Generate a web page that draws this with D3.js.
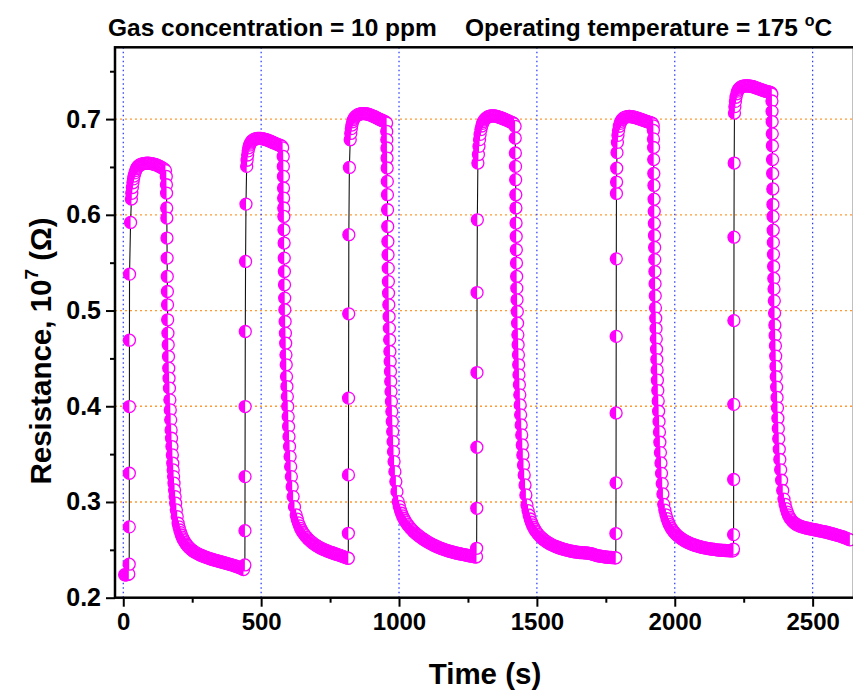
<!DOCTYPE html>
<html>
<head>
<meta charset="utf-8">
<script src="https://cdn.jsdelivr.net/npm/d3@7"></script>
<style>
  body { margin: 0; background: #fff; }
  text { font-family: "Liberation Sans", Arial, sans-serif; font-weight: bold; fill: #000; }
</style>
</head>
<body>
<svg id="chart" width="853" height="695"></svg>
<script>
// Sensor resistance over six exposure / recovery cycles: [time (s), resistance (x10^7 Ω)]
const cycle1 = [
  [5,0.2240],[8,0.2239],[11,0.2240],[14,0.2242],[17,0.2245],[20,0.2248],
  [21.5,0.2350],[21.8,0.2740],[22.0,0.3300],[22.2,0.3997],[22.4,0.4690],[22.7,0.5380],[26.5,0.5920],[29.5,0.6165],
  [31,0.6225],[33,0.6285],[35,0.6335],[37,0.6375],[39,0.6405],[42,0.6438],[45,0.6462],[48,0.6482],[51,0.6497],[54,0.6508],[58,0.6518],[62,0.6524],[66,0.6529],[70,0.6532],[74,0.6535],[78,0.6537],[82,0.6538],[86,0.6539],[90,0.6539],[94,0.6538],[98,0.6537],[102,0.6535],[106,0.6533],[110,0.6530],[114,0.6527],[118,0.6523],[122,0.6519],[126,0.6514],[130,0.6508],[134,0.6502],[138,0.6496],[142,0.6489],[146,0.6482],[150,0.6473],[153,0.6462],
  [156,0.6401],[156.5,0.6314],[157,0.6227],[157.5,0.6071],[158,0.5966],[158.5,0.5757],[159,0.5548],[159.5,0.5356],[160,0.5199],[160.5,0.5060],[161,0.4903],[162,0.4764],[163,0.4642],[164,0.4519],[165,0.4398],[166,0.4293],[167.5,0.4189],[169,0.4067],[170.5,0.3962],[172,0.3858],[173.5,0.3753],[175,0.3666],[176.5,0.3579],[178,0.3492],[179.5,0.3405],[181,0.3335],[182.5,0.3265],[184,0.3196],[186,0.3126],[188,0.3056],[190,0.2987],[192.5,0.2917],[195.5,0.2847],
  [199,0.2778],[202,0.2740],[205,0.2707],[208,0.2680],[211,0.2655],[214,0.2633],[217,0.2614],[220,0.2597],[224,0.2578],[228,0.2561],[232,0.2546],[236,0.2533],[240,0.2521],[244,0.2510],[248,0.2500],[252,0.2491],[256,0.2483],[261,0.2474],[266,0.2466],[271,0.2458],[276,0.2451],[281,0.2444],[286,0.2438],[291,0.2432],[296,0.2426],[301,0.2421],[306,0.2416],[311,0.2411],[316,0.2406],[321,0.2402],[326,0.2397],[331,0.2393],[336,0.2389],[341,0.2385],[346,0.2381],[351,0.2377],[356,0.2373],[361,0.2369],[366,0.2365],[371,0.2361],[376,0.2357],[381,0.2353],[386,0.2349],[391,0.2345],[396,0.2341],[401,0.2336],[406,0.2331],[411,0.2326],[416,0.2321],[421,0.2315],[426,0.2309],[431,0.2302],[436,0.2294]
];
const cycle2 = [
  [441,0.2342],[441.3,0.2700],[441.6,0.3265],[442,0.3997],[442.5,0.4781],[443.5,0.5513],[445,0.6112],[447.5,0.6506],
  [449,0.6570],[451,0.6625],[453,0.6668],[455,0.6700],[458,0.6728],[461,0.6748],[464,0.6762],[467,0.6773],[471,0.6782],[475,0.6788],[479,0.6792],[483,0.6795],[487,0.6797],[491,0.6798],[495,0.6798],[499,0.6797],[503,0.6796],[507,0.6794],[511,0.6791],[515,0.6788],[519,0.6784],[523,0.6780],[527,0.6775],[531,0.6771],[535,0.6766],[539,0.6761],[543,0.6756],[547,0.6751],[551,0.6746],[555,0.6741],[559,0.6736],[563,0.6731],[567,0.6727],[571,0.6722],[575,0.6718],[578,0.6700],
  [580,0.6610],[580.4,0.6506],[580.8,0.6401],[581.2,0.6280],[581.6,0.6175],[582,0.6071],[582.4,0.5983],[582.8,0.5844],[583.3,0.5705],[583.8,0.5548],[584.3,0.5408],[584.8,0.5269],[585.4,0.5130],[586,0.5008],[587,0.4885],[588,0.4764],[589,0.4659],[590,0.4537],[591,0.4433],[592,0.4310],[593.5,0.4206],[595,0.4101],[596.5,0.3997],[598,0.3892],[599.5,0.3788],[601,0.3683],[603,0.3579],[605,0.3474],[607,0.3369],[609.5,0.3265],[612.5,0.3160],[616,0.3056],[621,0.2951],[627,0.2865],
  [631,0.2820],[635,0.2782],[639,0.2751],[643,0.2725],[647,0.2703],[651,0.2684],[655,0.2667],[660,0.2648],[665,0.2631],[670,0.2615],[675,0.2601],[680,0.2588],[685,0.2576],[690,0.2565],[695,0.2555],[700,0.2545],[705,0.2536],[710,0.2528],[715,0.2520],[720,0.2513],[725,0.2506],[730,0.2500],[735,0.2494],[740,0.2488],[745,0.2482],[750,0.2477],[755,0.2472],[760,0.2467],[765,0.2462],[770,0.2457],[775,0.2452],[780,0.2447],[785,0.2442],[790,0.2437],[795,0.2432],[800,0.2427],[805,0.2422],[810,0.2417],[814,0.2413]
];
const cycle3 = [
  [816,0.2412],[816.3,0.2673],[816.6,0.3283],[817,0.4085],[817.5,0.4966],[818,0.5792],[820,0.6495],[823,0.6784],
  [825,0.6850],[827,0.6900],[829,0.6938],[832,0.6972],[835,0.6995],[838,0.7011],[841,0.7023],[845,0.7034],[849,0.7042],[853,0.7048],[857,0.7052],[861,0.7055],[865,0.7057],[869,0.7058],[873,0.7058],[877,0.7057],[881,0.7055],[885,0.7053],[889,0.7050],[893,0.7046],[897,0.7042],[901,0.7037],[905,0.7032],[909,0.7027],[913,0.7022],[917,0.7016],[921,0.7010],[925,0.7004],[929,0.6998],[933,0.6993],[937,0.6988],[941,0.6983],[945,0.6978],[949,0.6972],[952,0.6966],
  [955,0.6959],[955.4,0.6871],[955.8,0.6785],[956.2,0.6698],[956.6,0.6593],[957,0.6489],[957.5,0.6349],[958,0.6210],[958.5,0.6053],[959,0.5878],[959.6,0.5722],[960.2,0.5583],[960.8,0.5443],[961.4,0.5303],[962,0.5182],[963,0.5060],[964,0.4937],[965,0.4816],[966,0.4694],[967,0.4572],[968,0.4467],[969,0.4363],[970,0.4258],[971,0.4153],[972.5,0.4049],[974,0.3944],[975.5,0.3840],[977,0.3735],[978.5,0.3631],[980,0.3526],[982,0.3422],[985,0.3317],[988.5,0.3213],[992.5,0.3108],[997,0.3004],
  [1001,0.2955],[1005,0.2915],[1009,0.2882],[1013,0.2854],[1017,0.2830],[1021,0.2809],[1025,0.2790],[1030,0.2769],[1035,0.2750],[1040,0.2732],[1045,0.2716],[1050,0.2701],[1055,0.2687],[1060,0.2674],[1065,0.2662],[1070,0.2650],[1075,0.2639],[1080,0.2628],[1085,0.2618],[1090,0.2608],[1095,0.2599],[1100,0.2590],[1105,0.2581],[1110,0.2573],[1115,0.2565],[1120,0.2557],[1125,0.2550],[1130,0.2543],[1135,0.2536],[1140,0.2530],[1145,0.2524],[1150,0.2518],[1155,0.2512],[1160,0.2507],[1165,0.2502],[1170,0.2497],[1175,0.2492],[1180,0.2488],[1185,0.2484],[1190,0.2480],[1195,0.2476],[1200,0.2472],[1205,0.2468],[1210,0.2465],[1215,0.2462],[1220,0.2459],[1225,0.2456],[1230,0.2453],[1235,0.2450],[1240,0.2447],[1245,0.2444],[1250,0.2441],[1255,0.2438],[1260,0.2435],[1265,0.2432],[1270,0.2429],[1275,0.2426],[1279,0.2424]
];
const cycle4 = [
  [1281,0.2429],[1281.5,0.2516],[1282,0.2934],[1282.3,0.3572],[1282.7,0.4352],[1283,0.5188],[1284,0.5948],[1286,0.6541],
  [1288,0.6630],[1290,0.6715],[1292,0.6785],[1294,0.6840],[1297,0.6890],[1300,0.6928],[1303,0.6955],[1306,0.6975],[1310,0.6992],[1314,0.7005],[1318,0.7015],[1322,0.7022],[1326,0.7027],[1330,0.7031],[1334,0.7033],[1338,0.7034],[1342,0.7034],[1346,0.7033],[1350,0.7031],[1354,0.7028],[1358,0.7025],[1362,0.7021],[1366,0.7017],[1370,0.7013],[1374,0.7009],[1378,0.7004],[1382,0.6999],[1386,0.6994],[1390,0.6989],[1394,0.6984],[1398,0.6979],[1402,0.6974],[1406,0.6969],[1410,0.6964],[1414,0.6958],[1417,0.6950],
  [1421,0.6924],[1421.5,0.6802],[1422,0.6646],[1422.5,0.6506],[1423,0.6367],[1423.5,0.6210],[1424,0.6071],[1424.5,0.5914],[1425,0.5774],[1425.5,0.5635],[1426,0.5496],[1426.6,0.5356],[1427.2,0.5234],[1428,0.5112],[1429,0.4990],[1430,0.4868],[1431,0.4746],[1432,0.4642],[1433,0.4537],[1434,0.4433],[1435,0.4328],[1436.5,0.4224],[1438,0.4119],[1439.5,0.4014],[1441,0.3910],[1443,0.3805],[1445,0.3701],[1447,0.3596],[1449,0.3492],[1451.5,0.3387],[1454,0.3283],[1457,0.3178],[1460,0.3074],[1464,0.2969],
  [1468,0.2910],[1472,0.2862],[1476,0.2822],[1480,0.2788],[1484,0.2760],[1488,0.2736],[1492,0.2715],[1496,0.2696],[1500,0.2680],[1505,0.2662],[1510,0.2646],[1515,0.2631],[1520,0.2618],[1525,0.2606],[1530,0.2595],[1535,0.2585],[1540,0.2576],[1545,0.2567],[1550,0.2559],[1555,0.2552],[1560,0.2545],[1565,0.2539],[1570,0.2533],[1575,0.2527],[1580,0.2522],[1585,0.2517],[1590,0.2512],[1595,0.2508],[1600,0.2504],[1605,0.2500],[1610,0.2496],[1615,0.2492],[1620,0.2489],[1625,0.2486],[1630,0.2483],[1635,0.2480],[1640,0.2478],[1645,0.2476],[1650,0.2474],[1655,0.2472],[1660,0.2471],[1665,0.2470],[1670,0.2469],[1675,0.2468],[1680,0.2467],[1685,0.2466],[1690,0.2464],[1695,0.2461],[1700,0.2457],[1705,0.2452],[1710,0.2447],[1715,0.2443],[1720,0.2439],[1725,0.2436],[1730,0.2433],[1735,0.2431],[1740,0.2429],[1745,0.2427],[1750,0.2425],[1755,0.2423],[1760,0.2422],[1765,0.2421],[1770,0.2420],[1775,0.2419],[1780,0.2418],[1783,0.2417]
];
const cycle5 = [
  [1786,0.2417],[1786.5,0.2670],[1787,0.3200],[1787.3,0.3930],[1787.6,0.4730],[1788,0.5540],[1788.5,0.6223],[1789,0.6342],[1789.5,0.6487],[1790.5,0.6650],
  [1792,0.6757],[1794,0.6830],[1796,0.6880],[1799,0.6925],[1802,0.6955],[1805,0.6977],[1809,0.6995],[1813,0.7007],[1817,0.7016],[1821,0.7021],[1825,0.7024],[1829,0.7026],[1833,0.7027],[1837,0.7027],[1841,0.7026],[1845,0.7024],[1849,0.7022],[1853,0.7019],[1857,0.7016],[1861,0.7013],[1865,0.7009],[1869,0.7005],[1873,0.7001],[1877,0.6997],[1881,0.6993],[1885,0.6989],[1889,0.6985],[1893,0.6981],[1897,0.6977],[1901,0.6973],[1905,0.6969],[1909,0.6965],[1913,0.6961],[1917,0.6957],[1920,0.6950],
  [1922,0.6930],[1922.4,0.6883],[1922.8,0.6793],[1923.2,0.6703],[1923.6,0.6577],[1924,0.6432],[1924.5,0.6307],[1925,0.6163],[1925.5,0.6036],[1926,0.5911],[1926.5,0.5784],[1927,0.5659],[1927.5,0.5532],[1928,0.5407],[1928.6,0.5280],[1929.2,0.5154],[1930,0.5028],[1931,0.4920],[1932,0.4812],[1933,0.4704],[1934,0.4596],[1935,0.4488],[1936,0.4380],[1937,0.4272],[1938.5,0.4164],[1940,0.4056],[1941.5,0.3948],[1943,0.3840],[1944.5,0.3732],[1946,0.3624],[1948,0.3516],[1950,0.3408],[1952,0.3299],[1954.5,0.3192],[1957,0.3084],[1960,0.2975],
  [1964,0.2915],[1968,0.2866],[1972,0.2826],[1976,0.2793],[1980,0.2766],[1984,0.2743],[1988,0.2723],[1993,0.2702],[1998,0.2684],[2003,0.2668],[2008,0.2654],[2013,0.2641],[2018,0.2630],[2023,0.2619],[2028,0.2609],[2033,0.2600],[2038,0.2592],[2043,0.2584],[2048,0.2577],[2053,0.2570],[2058,0.2564],[2063,0.2558],[2068,0.2553],[2073,0.2548],[2078,0.2543],[2083,0.2539],[2088,0.2535],[2093,0.2531],[2098,0.2527],[2103,0.2524],[2108,0.2521],[2113,0.2518],[2118,0.2515],[2123,0.2512],[2128,0.2510],[2133,0.2508],[2138,0.2506],[2143,0.2504],[2148,0.2502],[2153,0.2500],[2158,0.2498],[2163,0.2497],[2168,0.2496],[2173,0.2495],[2178,0.2494],[2183,0.2493],[2188,0.2492],[2193,0.2491],[2198,0.2490],[2203,0.2490],[2208,0.2489],[2211,0.2489]
];
const cycle6 = [
  [2213,0.2508],[2213.3,0.2659],[2213.6,0.3235],[2214,0.4020],[2214.4,0.4895],[2214.8,0.5766],[2215.5,0.6541],[2216.5,0.7063],
  [2218,0.7130],[2220,0.7185],[2222,0.7228],[2225,0.7265],[2228,0.7292],[2231,0.7310],[2235,0.7324],[2239,0.7333],[2243,0.7339],[2247,0.7343],[2251,0.7345],[2255,0.7346],[2259,0.7347],[2263,0.7347],[2267,0.7346],[2271,0.7345],[2275,0.7343],[2279,0.7341],[2283,0.7338],[2287,0.7335],[2291,0.7331],[2295,0.7327],[2299,0.7323],[2303,0.7319],[2307,0.7314],[2311,0.7310],[2315,0.7306],[2319,0.7302],[2323,0.7298],[2327,0.7294],[2331,0.7290],[2335,0.7287],[2339,0.7284],[2343,0.7281],[2347,0.7278],[2350,0.7272],
  [2352,0.7260],[2352.4,0.7189],[2352.8,0.7081],[2353.2,0.6973],[2353.6,0.6846],[2354,0.6721],[2354.5,0.6577],[2355,0.6432],[2355.5,0.6270],[2356,0.6108],[2356.5,0.5983],[2357,0.5839],[2357.5,0.5712],[2358,0.5587],[2358.6,0.5460],[2359.2,0.5335],[2360,0.5226],[2361,0.5101],[2362,0.4974],[2363,0.4849],[2364,0.4740],[2365,0.4632],[2366,0.4524],[2367,0.4416],[2368,0.4308],[2369.5,0.4200],[2371,0.4092],[2372.5,0.3984],[2374,0.3875],[2375.5,0.3768],[2377,0.3660],[2379,0.3551],[2381,0.3444],[2384,0.3336],[2387.5,0.3227],[2391.5,0.3120],[2396,0.3030],
  [2400,0.2975],[2404,0.2930],[2408,0.2894],[2412,0.2865],[2416,0.2842],[2420,0.2823],[2425,0.2805],[2430,0.2790],[2435,0.2778],[2440,0.2768],[2445,0.2760],[2450,0.2753],[2455,0.2747],[2460,0.2742],[2465,0.2737],[2470,0.2733],[2475,0.2729],[2480,0.2726],[2485,0.2723],[2490,0.2720],[2495,0.2717],[2500,0.2714],[2505,0.2711],[2510,0.2708],[2515,0.2705],[2520,0.2702],[2525,0.2699],[2530,0.2696],[2535,0.2693],[2540,0.2690],[2545,0.2687],[2550,0.2684],[2555,0.2680],[2560,0.2676],[2565,0.2672],[2570,0.2668],[2575,0.2664],[2580,0.2660],[2585,0.2656],[2590,0.2652],[2595,0.2648],[2600,0.2644],[2605,0.2639],[2610,0.2634],[2615,0.2629],[2620,0.2623],[2625,0.2617],[2630,0.2611],[2635,0.2605]
];

// Axis ticks and grid positions
const xTicks = [0, 500, 1000, 1500, 2000, 2500];
const xMinorTicks = [250, 750, 1250, 1750, 2250];
const yTicks = [0.2, 0.3, 0.4, 0.5, 0.6, 0.7];
const yMinorTicks = [0.25, 0.35, 0.45, 0.55, 0.65, 0.75];
const yGrid = [0.3, 0.4, 0.5, 0.6, 0.7];

const series = [cycle1, cycle2, cycle3, cycle4, cycle5, cycle6].flat();

const svg = d3.select("#chart");
const plot = { left: 115, top: 47.3, right: 854, bottom: 597.7 };

const x = d3.scaleLinear().domain([-30, 2650]).range([plot.left, plot.right]);
const y = d3.scaleLinear().domain([0.2, 0.775]).range([plot.bottom, plot.top]);

svg.append("rect").attr("width", 853).attr("height", 695).attr("fill", "#fff");

svg.append("clipPath").attr("id", "plotClip")
  .append("rect")
  .attr("x", plot.left).attr("y", plot.top)
  .attr("width", plot.right - plot.left).attr("height", plot.bottom - plot.top);

// dotted grid: orange at the major resistance ticks, blue at the major time ticks
const grid = svg.append("g");
grid.selectAll(".gh").data(yGrid).join("line").attr("class", "gh")
  .attr("x1", plot.left).attr("x2", plot.right)
  .attr("y1", d => y(d)).attr("y2", d => y(d))
  .attr("stroke", "#FF9A33").attr("stroke-width", 1.3)
  .attr("stroke-dasharray", "2,3");
grid.selectAll(".gv").data(xTicks).join("line").attr("class", "gv")
  .attr("x1", d => x(d)).attr("x2", d => x(d))
  .attr("y1", plot.top).attr("y2", plot.bottom)
  .attr("stroke", "#2030FF").attr("stroke-width", 1.2)
  .attr("stroke-dasharray", "1.5,3");

// connecting line and half-filled circle markers
const body = svg.append("g").attr("clip-path", "url(#plotClip)");
const line = d3.line().x(d => x(d[0])).y(d => y(d[1]));
body.append("path").datum(series)
  .attr("d", line)
  .attr("fill", "none").attr("stroke", "#111").attr("stroke-width", 1.1);

const r = 6;
const marks = body.selectAll(".pt").data(series).join("g").attr("class", "pt")
  .attr("transform", d => `translate(${x(d[0])},${y(d[1])})`);
marks.append("circle").attr("r", r)
  .attr("fill", "#fff").attr("stroke", "#FF00FF").attr("stroke-width", 1.3);
marks.append("path")
  .attr("d", `M0,${-r} A${r},${r} 0 0,0 0,${r} Z`)
  .attr("fill", "#FF00FF");

// axes
const xAxis = d3.axisBottom(x).tickValues(xTicks).tickSize(9).tickPadding(6).tickFormat(d3.format("d"));
const xMinor = d3.axisBottom(x).tickValues(xMinorTicks).tickSize(5).tickFormat("");
const yAxis = d3.axisLeft(y).tickValues(yTicks).tickSize(9).tickPadding(5).tickFormat(d3.format(".1f"));
const yMinor = d3.axisLeft(y).tickValues(yMinorTicks).tickSize(5).tickFormat("");

function styleAxis(size) {
  return g => {
    g.select(".domain").remove();
    g.selectAll(".tick line").attr("stroke", "#000").attr("stroke-width", 2);
    g.selectAll(".tick text").attr("font-size", size).attr("font-weight", "bold")
      .attr("font-family", "Liberation Sans, Arial, sans-serif").attr("fill", "#000");
  };
}
svg.append("g").attr("transform", `translate(0,${plot.bottom})`).call(xAxis).call(styleAxis(24));
svg.append("g").attr("transform", `translate(0,${plot.bottom})`).call(xMinor).call(styleAxis(24));
svg.append("g").attr("transform", `translate(${plot.left},0)`).call(yAxis).call(styleAxis(25));
svg.append("g").attr("transform", `translate(${plot.left},0)`).call(yMinor).call(styleAxis(25));

// frame
svg.append("rect")
  .attr("x", plot.left).attr("y", plot.top)
  .attr("width", plot.right - plot.left).attr("height", plot.bottom - plot.top)
  .attr("fill", "none").attr("stroke", "#000").attr("stroke-width", 2.5);

// titles
svg.append("text").attr("x", 108).attr("y", 36).attr("font-size", 24.5)
  .text("Gas concentration = 10 ppm");
const t2 = svg.append("text").attr("x", 465).attr("y", 36).attr("font-size", 24.5);
t2.append("tspan").text("Operating temperature = 175 ");
t2.append("tspan").attr("font-size", 16).attr("dy", -10).text("o");
t2.append("tspan").attr("dy", 10).text("C");

svg.append("text").attr("x", 485).attr("y", 684).attr("font-size", 29.5)
  .attr("text-anchor", "middle").text("Time (s)");

const yl = svg.append("text").attr("transform", "translate(51,351) rotate(-90)")
  .attr("font-size", 29.5).attr("text-anchor", "middle");
yl.append("tspan").text("Resistance, 10");
yl.append("tspan").attr("font-size", 19).attr("dy", -13).text("7");
yl.append("tspan").attr("dy", 13).text(" (Ω)");
</script>
</body>
</html>
